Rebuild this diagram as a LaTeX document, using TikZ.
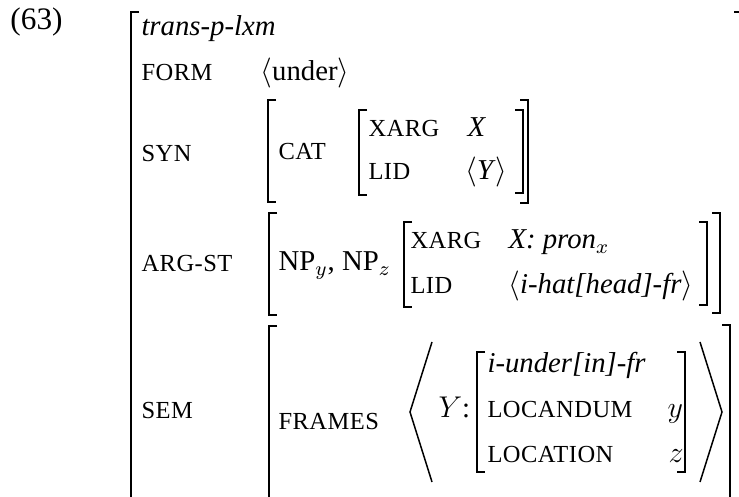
\documentclass[tikz,border=0pt]{standalone}
\usepackage{fontspec}
\setmainfont{Liberation Serif}
\newfontfamily\featfont[LetterSpace=2]{Liberation Serif}
\newcommand\feat[1]{{\featfont\fontsize{9.8}{11}\selectfont #1}}
\begin{document}
\begin{tikzpicture}
  [x=0.4pt,y=-0.4pt,font=\fontsize{11.5}{13}\selectfont,
   every node/.style={inner sep=0pt,anchor=base west},
   brk/.style={line width=0.7pt},
   ang/.style={line width=0.6pt}]
  \useasboundingbox (0,0) rectangle (739,497);
  \node[font=\fontsize{12.5}{14}\selectfont] (ex) at (10,30) {(63)};
  \node (type) at (141,36) {\textit{trans-p-lxm}};
  \node (form) at (141,81) {\feat{FORM}};
  \node (formv) at (260,81) {$\langle$under$\rangle$};
  \node (syn) at (141,162) {\feat{SYN}};
  \node (cat) at (278,160) {\feat{CAT}};
  \node (xarg1) at (368,137) {\feat{XARG}};
  \node (xv1) at (467,137) {\textit{X}};
  \node (lid1) at (368,180) {\feat{LID}};
  \node (lv1) at (465,180) {$\langle$\textit{Y}$\rangle$};
  \node (argst) at (141,272) {\feat{ARG-ST}};
  \node (nps) at (278,271) {NP$_y$, NP$_z$};
  \node (xarg2) at (410,249) {\feat{XARG}};
  \node (xv2) at (508,249) {\textit{X: pron}$_x$};
  \node (lid2) at (410,294) {\feat{LID}};
  \node (lv2) at (508,294) {$\langle$\textit{i-hat[head]-fr}$\rangle$};
  \node (sem) at (141,419) {\feat{SEM}};
  \node (frames) at (278,430) {\feat{FRAMES}};
  \node (ylab) at (438,418) {$Y$:};
  \node (fr) at (487,373) {\textit{i-under[in]-fr}};
  \node (locdm) at (487,418) {\feat{LOCANDUM}};
  \node (yv) at (667,418) {$y$};
  \node (loc) at (487,463) {\feat{LOCATION}};
  \node (zv) at (668,463) {$z$};
  % brackets
  \foreach \x/\t/\b in {131/12/530,268/100/202,359/110/195,269/213/315,404/222/307,269/326/530,477/352/472}
    \draw[brk] (\x+8,\t) -| (\x,\b) -- (\x+8,\b);
  \foreach \x/\t/\b in {742/12/530,528/100/203,523/110/193,720/213/313,707/222/305,730/325/530,685/352/472}
    \draw[brk] (\x-8,\t) -| (\x,\b) -- (\x-8,\b);
  \draw[ang] (432,342) -- (410,412) -- (432,482);
  \draw[ang] (700,342) -- (722,412) -- (700,482);
\end{tikzpicture}
\end{document}
